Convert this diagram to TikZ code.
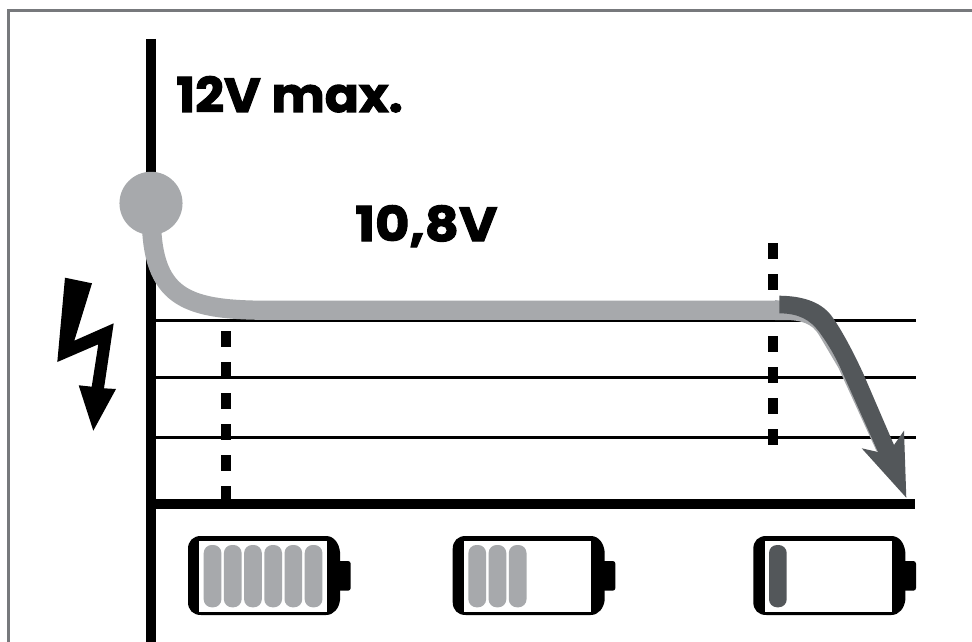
\documentclass[tikz,border=0pt]{standalone}
\usepackage{fontspec}
\setmainfont{Poppins}
\newfontfamily\heavy{Poppins}[BoldFeatures={FakeBold=2.2,FakeStretch=1.05}]
\newfontfamily\heavywide{Poppins}[BoldFeatures={FakeBold=2.2,FakeStretch=1.1}]
\definecolor{lightcurve}{HTML}{A7A9AC}
\definecolor{darkcurve}{HTML}{53575A}
\definecolor{framegrey}{HTML}{77797C}
\tikzset{
  axisline/.style={line width=7.5pt,black},
  gridline/.style={line width=1.9pt,black},
  dashline/.style={line width=7.5pt,black,dash pattern=on 11.7pt off 11.55pt},
  label/.style={inner sep=0pt,anchor=base west,font=\fontsize{36pt}{36pt}\selectfont},
  cellbar/.style={rounded corners=6pt},
}
\newcommand{\batteryat}[2]{%
  \begin{scope}[shift={(#1,0)}]
    \fill[black] (13,536) -- (138,536) .. controls (146,536) and (151,543) .. (152,552)
      -- (152,600) .. controls (151,608) and (146,615) .. (138,615) -- (13,615)
      .. controls (5,615) and (0,610) .. (0,602) -- (0,549) .. controls (0,541) and (5,536) .. (13,536) -- cycle;
    \fill[black,rounded corners=2pt] (148,561) -- (162.7,561) -- (162.7,590.7) -- (148,590.7) -- cycle;
    \fill[white] (11.3,541) rectangle (138.7,611.7);
    #2
  \end{scope}}
\newcommand{\cellat}[2]{\fill[#2,cellbar] (15.7+#1*20.2,545) rectangle (33.4+#1*20.2,607.3);}
\begin{document}
\begin{tikzpicture}[x=0.75pt,y=-0.75pt]
\useasboundingbox (0,0) rectangle (972,642);
\fill[white] (0,0) rectangle (972,642);
\draw[framegrey,line width=2pt] (8.7,642) -- (8.7,10.5) -- (972,10.5);

\coordinate (axisTop) at (151,39);
\coordinate (axisBottom) at (151,642);
\coordinate (axisCorner) at (151,504);
\coordinate (axisEnd) at (914.5,504);
\foreach \n/\y in {a/320.6,b/377.4,c/437.4}{
  \coordinate (g\n L) at (151,\y);
  \coordinate (g\n R) at (916,\y);
  \draw[gridline] (g\n L) -- (g\n R);
}
\coordinate (d1a) at (226,331);
\coordinate (d1b) at (226,501);
\coordinate (d2a) at (773.3,243.3);
\coordinate (d2b) at (773.3,445);
\draw[dashline] (d1a) -- (d1b);
\draw[dashline] (d2a) -- (d2b);
\draw[axisline] (axisTop) -- (axisBottom);
\draw[axisline] (axisCorner) -- (axisEnd);

% grey sliver under the dark arrow
\fill[lightcurve] (775,320) -- (785,320) .. controls (800,320) and (812,323) .. (819,335)
  -- (838.5,368) -- (876.5,451) -- (880,452) -- (845,340) -- (825,310) -- (775,300) -- cycle;
% grey curve
\draw[lightcurve,line width=14.4pt] (151.5,225) .. controls (154,300) and (190,310.3) .. (270,310.3) -- (780,310.3);
\node[circle,fill=lightcurve,minimum size=47.3pt,inner sep=0pt] (dot) at (151,203.3) {};

% dark arrow
\fill[darkcurve] (779.3,295.7) .. controls (805,296) and (823,303) .. (833,318)
  .. controls (840,328) and (850,345) .. (863,373) -- (894,445) -- (904,430.7) -- (906.3,497.7)
  -- (861.7,448.3) -- (878,452) -- (840,367) .. controls (832,350) and (825,340) .. (820,333)
  .. controls (810,319) and (798,313.5) .. (779.3,313.3) -- cycle;

% lightning
\fill[black] (65,277.7) -- (92,283.3) -- (74.3,340.7) -- (113.7,323.3) -- (104,388.3) -- (116,389)
  -- (93.3,430.7) -- (78.7,385.3) -- (91.7,386.7) -- (98.3,344.3) -- (57.3,362) -- cycle;

\node[label] (maxlabel) at (176,112) {\heavy\bfseries 12V max.};
\node[label] (midlabel) at (355,241) {\heavywide\bfseries 10,8V};

\batteryat{188}{\foreach \i in {0,...,5}{\cellat{\i}{lightcurve}}}
\batteryat{452.7}{\foreach \i in {0,1,2}{\cellat{\i}{lightcurve}}}
\batteryat{753.3}{\cellat{0}{darkcurve}}
\end{tikzpicture}
\end{document}
